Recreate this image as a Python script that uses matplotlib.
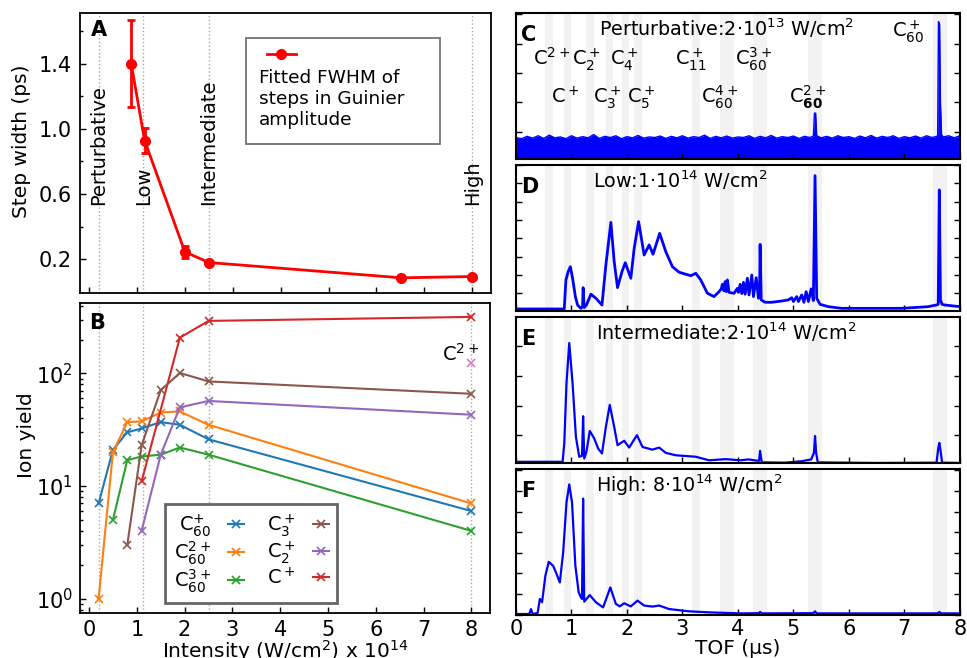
import matplotlib
matplotlib.use("Agg")
import matplotlib.pyplot as plt
from matplotlib.ticker import FixedLocator, MultipleLocator
from matplotlib.lines import Line2D
from matplotlib.patches import Rectangle
import matplotlib.transforms as mtransforms

plt.rcParams["mathtext.default"] = "regular"

# ---------------- Panel A: fitted step width vs intensity ----------------
fwhm_intensity = [0.88, 1.16, 2.0, 2.5, 6.52, 8.0]
fwhm_width = [1.40, 0.928, 0.245, 0.18, 0.086, 0.094]
fwhm_err = [0.265, 0.079, 0.035, 0.0, 0.0, 0.0]

regime_intensity = [0.2, 1.13, 2.5, 8.0]
regime_names = ["Perturbative", "Low", "Intermediate", "High"]

# ---------------- Panel B: ion yields vs intensity ----------------
c60p_x = [0.2, 0.5, 0.8, 1.1, 1.5, 1.9, 2.5, 8.0]
c60p_y = [7.0, 21, 30, 32.5, 37, 35, 26, 6.0]
c60pp_x = [0.2, 0.5, 0.8, 1.1, 1.5, 1.9, 2.5, 8.0]
c60pp_y = [1.0, 20, 37, 37.5, 45, 46, 35, 7.0]
c60ppp_x = [0.5, 0.8, 1.1, 1.5, 1.9, 2.5, 8.0]
c60ppp_y = [5.0, 17, 18.3, 19, 22, 19, 4.0]
c1p_x = [1.1, 1.9, 2.5, 8.0]
c1p_y = [11, 208, 293, 318]
c2p_x = [1.1, 1.5, 1.9, 2.5, 8.0]
c2p_y = [4.0, 19, 50, 57, 43]
c3p_x = [0.8, 1.1, 1.5, 1.9, 2.5, 8.0]
c3p_y = [3.0, 23, 71, 101, 85, 66]
c1pp_x = [8.0]
c1pp_y = [123]

# ---------------- Panels C-F: time-of-flight spectra ----------------
band_lo = [0.53, 0.87, 1.26, 1.62, 1.91, 2.13, 3.17, 3.68, 4.28, 5.27, 7.52]
band_hi = [0.66, 1.00, 1.41, 1.75, 2.04, 2.27, 3.32, 3.93, 4.52, 5.51, 7.76]

# perturbative: noisy baseline band plus two parent-ion peaks
tofC = [0.0, 0.1, 0.2, 0.3, 0.4, 0.5, 0.6, 0.7, 0.8, 0.9, 1.0, 1.1, 1.2, 1.3,
        1.4, 1.5, 1.6, 1.7, 1.8, 1.9, 2.0, 2.1, 2.2, 2.3, 2.4, 2.5, 2.6, 2.7,
        2.8, 2.9, 3.0, 3.1, 3.2, 3.3, 3.4, 3.5, 3.6, 3.7, 3.8, 3.9, 4.0, 4.1,
        4.2, 4.3, 4.4, 4.5, 4.6, 4.7, 4.8, 4.9, 5.0, 5.1, 5.2, 5.3,
        5.36, 5.38, 5.40, 5.42, 5.5, 5.6, 5.7, 5.8, 5.9, 6.0, 6.1, 6.2, 6.3,
        6.4, 6.5, 6.6, 6.7, 6.8, 6.9, 7.0, 7.1, 7.2, 7.3, 7.4, 7.5, 7.6,
        7.615, 7.635, 7.65, 7.67, 7.7, 7.8, 7.9, 8.0]
sigC_hi = [0.80, 0.76, 0.84, 0.78, 0.86, 0.77, 0.88, 0.79, 0.82, 0.76, 0.86,
           0.78, 0.83, 0.79, 0.90, 0.77, 0.84, 0.80, 0.86, 0.76, 0.83, 0.79,
           0.87, 0.78, 0.82, 0.80, 0.85, 0.77, 0.84, 0.79, 0.86, 0.78, 0.83,
           0.80, 0.88, 0.77, 0.84, 0.79, 0.85, 0.78, 0.82, 0.80, 0.86, 0.77,
           0.84, 0.79, 0.87, 0.78, 0.83, 0.80, 0.85, 0.77, 0.84, 0.80,
           0.85, 1.63, 1.63, 0.86, 0.79, 0.84, 0.78, 0.86, 0.80, 0.83, 0.77,
           0.85, 0.79, 0.87, 0.78, 0.84, 0.80, 0.86, 0.77, 0.83, 0.79, 0.85,
           0.78, 0.86, 0.80, 0.85, 4.75, 4.65, 2.0, 0.90, 0.82, 0.86, 0.79,
           0.86]
sigC_lo = [0.10] * len(tofC)

tofD = [0.0, 0.87, 0.90, 0.94, 0.98, 1.02, 1.07, 1.11, 1.17, 1.20, 1.21, 1.23,
        1.27, 1.35, 1.44, 1.55, 1.62, 1.71, 1.77, 1.83, 1.91, 1.97, 2.07,
        2.13, 2.21, 2.31, 2.40, 2.47, 2.59, 2.70, 2.82, 2.94, 3.06, 3.15,
        3.24, 3.33, 3.45, 3.57, 3.66, 3.70, 3.72, 3.75, 3.77, 3.79, 3.81,
        3.84, 3.93, 3.99, 4.01, 4.04, 4.07, 4.10, 4.13, 4.17, 4.20, 4.25,
        4.28, 4.33, 4.37, 4.39, 4.40, 4.42, 4.49, 4.61, 4.79, 4.91, 4.97,
        5.00, 5.06, 5.09, 5.15, 5.19, 5.23, 5.27, 5.32, 5.36, 5.39, 5.42,
        5.48, 5.63, 5.87, 6.95, 7.43, 7.52, 7.58, 7.61, 7.63, 7.65, 7.68,
        7.73, 8.0]
sigD = [0.145, 0.145, 1.73, 2.18, 2.45, 1.82, 0.82, 0.36, 0.18, 0.27, 1.31,
        0.22, 0.36, 0.95, 0.73, 0.36, 2.55, 4.87, 2.73, 1.31, 2.18, 2.67,
        1.82, 3.45, 4.91, 3.09, 3.64, 3.13, 4.27, 3.27, 2.45, 2.15, 2.04,
        1.96, 2.09, 1.73, 1.00, 0.82, 1.09, 1.24, 1.49, 1.13, 1.64, 1.09,
        1.73, 1.05, 1.00, 1.27, 1.05, 1.49, 0.98, 1.60, 0.95, 1.82, 0.91,
        2.00, 0.82, 1.85, 0.73, 0.90, 3.67, 0.64, 0.51, 0.51, 0.58, 0.64,
        0.76, 0.55, 0.82, 0.55, 0.91, 0.51, 1.09, 0.55, 1.24, 0.60, 7.42,
        0.73, 0.40, 0.27, 0.18, 0.18, 0.27, 0.33, 0.36, 0.40, 6.64, 0.64,
        0.40, 0.36, 0.27]

tofE = [0.0, 0.84, 0.87, 0.91, 0.96, 1.02, 1.08, 1.14, 1.19, 1.21, 1.23,
        1.27, 1.33, 1.41, 1.48, 1.55, 1.62, 1.69, 1.77, 1.83, 1.95, 2.04,
        2.18, 2.28, 2.46, 2.58, 2.70, 2.88, 3.24, 3.48, 3.78, 4.05, 4.19,
        4.30, 4.38, 4.40, 4.43, 4.85, 5.15, 5.32, 5.37, 5.39, 5.41, 5.44,
        6.50, 7.58, 7.61, 7.63, 7.65, 7.68, 8.0]
sigE = [0.10, 0.10, 0.72, 2.75, 4.11, 2.75, 0.94, 0.27, 0.30, 1.64, 0.21,
        0.44, 1.14, 0.89, 0.55, 0.38, 1.28, 2.02, 1.28, 0.66, 0.81, 0.58,
        1.00, 0.60, 0.51, 0.58, 0.40, 0.32, 0.27, 0.15, 0.19, 0.15, 0.18,
        0.15, 0.13, 0.47, 0.08, 0.07, 0.12, 0.18, 0.40, 0.97, 0.40, 0.08,
        0.06, 0.07, 0.55, 0.74, 0.50, 0.07, 0.06]

tofF = [0.0, 0.24, 0.27, 0.30, 0.39, 0.43, 0.47, 0.53, 0.59, 0.67, 0.72,
        0.79, 0.85, 0.91, 0.96, 1.01, 1.07, 1.13, 1.17, 1.19, 1.21, 1.23,
        1.27, 1.33, 1.44, 1.57, 1.70, 1.80, 1.87, 1.95, 2.07, 2.19, 2.31,
        2.46, 2.58, 2.76, 3.12, 3.48, 4.05, 4.38, 4.40, 4.43, 5.36, 5.39,
        5.42, 7.60, 7.63, 7.66, 8.0]
sigF = [0.03, 0.03, 0.27, 0.03, 0.08, 0.76, 0.60, 1.89, 2.56, 2.37, 2.05,
        1.56, 3.02, 5.44, 6.32, 5.44, 2.37, 1.08, 0.84, 0.76, 5.63, 0.63,
        0.76, 0.95, 0.60, 0.35, 1.32, 0.52, 0.40, 0.55, 0.40, 0.68, 0.44,
        0.39, 0.44, 0.27, 0.16, 0.11, 0.06, 0.07, 0.13, 0.06, 0.07, 0.16,
        0.06, 0.06, 0.13, 0.06, 0.06]

ion_labels = [(r"$C^{2+}$", 0.64, 0), (r"$C_2^+$", 1.27, 0), (r"$C_4^+$", 1.955, 0),
              (r"$C_{11}^+$", 3.15, 0), (r"$C_{60}^{3+}$", 4.276, 0),
              (r"$C^+$", 0.89, 1), (r"$C_3^+$", 1.65, 1), (r"$C_5^+$", 2.255, 1),
              (r"$C_{60}^{4+}$", 3.67, 1), (r"$C_{\mathbf{60}}^{2+}$", 5.26, 1),
              (r"$C_{60}^+$", 7.06, 2)]

spectra_titles = ["Perturbative:2·10$^{13}$ W/cm$^2$",
                  "Low:1·10$^{14}$ W/cm$^2$",
                  "Intermediate:2·10$^{14}$ W/cm$^2$",
                  "High: 8·10$^{14}$ W/cm$^2$"]
spectra_title_x = [1.50, 1.38, 1.44, 1.45]
spectra_ylim = [(0.07, 5.03), (0.05, 8.0), (0.06, 4.98), (-0.02, 7.05)]

TICK_FS = 15
LABEL_FS = 14.5
LINE_GREY = "#a8a8a8"

fig = plt.figure(figsize=(9.67, 6.58), dpi=100)

axA = fig.add_axes([0.0827, 0.554, 0.425, 0.426])
axB = fig.add_axes([0.0827, 0.0688, 0.424, 0.471], sharex=axA)

for ax in (axA, axB):
    for s in ax.spines.values():
        s.set_linewidth(1.3)
    ax.tick_params(which="both", direction="in", labelsize=TICK_FS, width=1)
    ax.tick_params(which="major", length=4)
    ax.tick_params(which="minor", length=2.5)
    for xv in regime_intensity:
        ax.axvline(xv, color=LINE_GREY, ls=":", lw=1, zorder=0)

# ---- A ----
axA.errorbar(fwhm_intensity, fwhm_width, yerr=fwhm_err, color="red", lw=2,
             marker="o", ms=7, capsize=3, capthick=2, elinewidth=2)
axA.set_ylim(-0.01, 1.71)
axA.yaxis.set_major_locator(FixedLocator([0.2, 0.6, 1.0, 1.4]))
axA.yaxis.set_minor_locator(FixedLocator([0.4, 0.8, 1.2, 1.6]))
axA.tick_params(axis="y", pad=6)
axA.tick_params(axis="x", labelbottom=False)
axA.set_ylabel("Step width (ps)", fontsize=LABEL_FS)
axA.yaxis.set_label_coords(-0.12, 0.544)
for xv, name in zip(regime_intensity, regime_names):
    axA.text(xv, 0.53, name, rotation=90, ha="center", va="bottom", fontsize=14)
axA.text(0.026, 0.975, "A", transform=axA.transAxes, fontsize=15,
         fontweight="bold", ha="left", va="top")

# legend box for A
axA.add_patch(Rectangle((0.403, 0.532), 0.473, 0.38, transform=axA.transAxes,
                        fill=False, edgecolor="0.45", lw=1.3, zorder=5))
axA.add_line(Line2D([0.454, 0.525], [0.855, 0.855], transform=axA.transAxes,
                    color="red", lw=2, zorder=6))
axA.add_line(Line2D([0.4895], [0.855], transform=axA.transAxes, color="red",
                    marker="o", ms=7, zorder=6))
axA.text(0.436, 0.800, "Fitted FWHM of\nsteps in Guinier\namplitude",
         transform=axA.transAxes, fontsize=13.3, va="top", ha="left",
         linespacing=1.22, zorder=6)

# ---- B ----
mk = dict(marker="x", ms=6, mew=1.2, lw=1.5)
hB1, = axB.plot(c60p_x, c60p_y, color="tab:blue", **mk)
hB2, = axB.plot(c60pp_x, c60pp_y, color="tab:orange", **mk)
hB3, = axB.plot(c60ppp_x, c60ppp_y, color="tab:green", **mk)
hB4, = axB.plot(c1p_x, c1p_y, color="tab:red", **mk)
hB5, = axB.plot(c2p_x, c2p_y, color="tab:purple", **mk)
hB6, = axB.plot(c3p_x, c3p_y, color="tab:brown", **mk)
axB.plot(c1pp_x, c1pp_y, color="tab:pink", ls="none", marker="x", ms=6, mew=1.2)
axB.text(c1pp_x[0] - 0.22, 130, r"$C^{2+}$", ha="center", va="baseline", fontsize=14)
axB.set_yscale("log")
axB.set_xticks(range(0, 9))
axB.set_xlim(-0.19, 8.39)
axB.tick_params(axis="x", pad=5)
axB.tick_params(axis="y", pad=5)
axB.set_ylabel("Ion yield", fontsize=LABEL_FS)
axB.yaxis.set_label_coords(-0.108, 0.574)
axB.set_xlabel(r"Intensity (W/cm$^2$) x 10$^{14}$", fontsize=LABEL_FS, labelpad=-1)
axB.text(0.023, 0.966, "B", transform=axB.transAxes, fontsize=15,
         fontweight="bold", ha="left", va="top")
leg = axB.legend([hB1, hB2, hB3, hB6, hB5, hB4],
                 [r"$C_{60}^{+}$", r"$C_{60}^{2+}$", r"$C_{60}^{3+}$",
                  r"$C_3^+$", r"$C_2^+$", r"$C^+$"],
                 ncol=2, loc="lower left", bbox_to_anchor=(0.207, 0.03),
                 borderaxespad=0, markerfirst=False, handlelength=0.8,
                 handletextpad=0.9, columnspacing=1.2, fontsize=14,
                 fancybox=False, edgecolor="0.4", framealpha=1,
                 labelspacing=0.02, borderpad=0.45)
leg.get_frame().set_linewidth(2)

# ---- C-F ----
bottoms = [0.7584, 0.5278, 0.2964, 0.0653]
letters = ["C", "D", "E", "F"]
spec_axes = []
for i, b in enumerate(bottoms):
    ax = fig.add_axes([0.5336, b, 0.459, 0.2214])
    spec_axes.append(ax)
    for s in ax.spines.values():
        s.set_linewidth(1.5)
    for lo, hi in zip(band_lo, band_hi):
        ax.axvspan(lo, hi, color="#f2f2f2", lw=0, zorder=0)
    ax.set_xlim(0, 8)
    ax.set_ylim(*spectra_ylim[i])
    ax.xaxis.set_major_locator(MultipleLocator(1))
    ax.yaxis.set_major_locator(MultipleLocator(1))
    ax.tick_params(direction="in", right=True, labelleft=False,
                   labelbottom=(i == 3), labelsize=TICK_FS, length=4, width=1,
                   pad=3)
    ax.text(0.012, 0.92, letters[i], transform=ax.transAxes, fontsize=15,
            fontweight="bold", ha="left", va="top")
    tr = mtransforms.blended_transform_factory(ax.transData, ax.transAxes)
    ax.text(spectra_title_x[i], 0.845, spectra_titles[i], transform=tr,
            fontsize=13.8, ha="left", va="baseline")

axC, axD, axE, axF = spec_axes
axC.fill_between(tofC, sigC_lo, sigC_hi, color="blue", lw=0)
axC.plot(tofC, sigC_hi, color="blue", lw=1)
trC = mtransforms.blended_transform_factory(axC.transData, axC.transAxes)
row_y = [0.645, 0.382, 0.839]
for lab, xv, row in ion_labels:
    axC.text(xv, row_y[row], lab, transform=trC, ha="center", va="baseline",
             fontsize=14)

axD.plot(tofD, sigD, color="blue", lw=2)
axE.plot(tofE, sigE, color="blue", lw=1.6)
axF.plot(tofF, sigF, color="blue", lw=1.6)
axF.set_xlabel("TOF (µs)", fontsize=LABEL_FS, labelpad=0)

fig.savefig("out.png", dpi=100)
